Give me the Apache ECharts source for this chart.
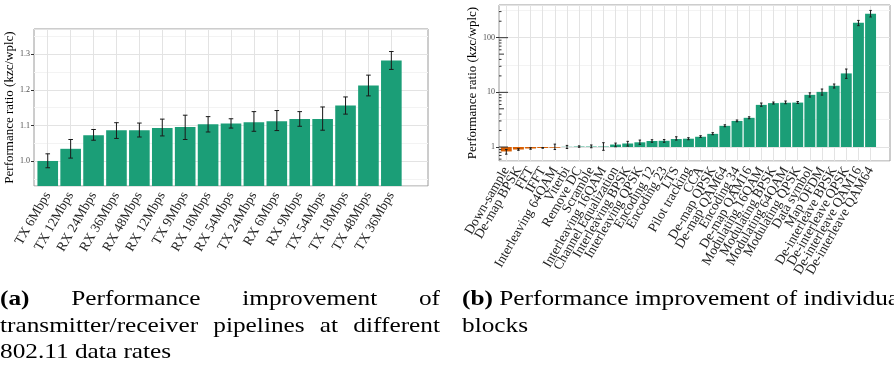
<!DOCTYPE html>
<html>
<head>
<meta charset="utf-8">
<script src="https://cdn.jsdelivr.net/npm/echarts@6/dist/echarts.min.js"></script>
<style>
  html, body { margin: 0; padding: 0; background: #fff; }
  #chart { position: absolute; left: 0; top: 0; width: 894px; height: 370px; }
  .cap { position: absolute; font-family: "Liberation Serif", serif; font-size: 22px;
         line-height: 26.5px; color: #000; white-space: nowrap; transform-origin: 0 0; }
  .cap .j { text-align: justify; text-align-last: justify; }
</style>
</head>
<body>
<div id="chart"></div>
<div class="cap" id="capA" style="left:0; top:285px;">
  <div class="j"><b>(a)</b> Performance improvement of</div>
  <div class="j">transmitter/receiver pipelines at different</div>
  <div>802.11 data rates</div>
</div>
<div class="cap" id="capB" style="left:462px; top:285px;">
  <div><b>(b)</b> Performance improvement of individual</div>
  <div>blocks</div>
</div>
<script>
// (a) pipelines
const leftCats = ["TX 6Mbps", "TX 12Mbps", "RX 24Mbps", "RX 36Mbps", "RX 48Mbps", "RX 12Mbps",
  "TX 9Mbps", "RX 18Mbps", "RX 54Mbps", "TX 24Mbps", "RX 6Mbps", "RX 9Mbps", "TX 54Mbps",
  "TX 18Mbps", "TX 48Mbps", "TX 36Mbps"];
const leftMean = [1.001, 1.035, 1.073, 1.087, 1.087, 1.093, 1.096, 1.104, 1.106, 1.109, 1.112,
  1.118, 1.118, 1.156, 1.212, 1.282];
const leftLow = [0.982, 1.009, 1.059, 1.064, 1.068, 1.071, 1.061, 1.082, 1.093, 1.084, 1.086,
  1.098, 1.087, 1.132, 1.183, 1.257];
const leftHigh = [1.021, 1.061, 1.089, 1.108, 1.107, 1.118, 1.129, 1.125, 1.119, 1.139, 1.142,
  1.139, 1.152, 1.180, 1.241, 1.307];
const leftMinorBreaks = [0.95, 1.05, 1.15, 1.25, 1.35];

// (b) individual blocks
const rightCats = ["Down-sample", "De-map BPSK", "FFT", "IFFT", "Interleaving 64QAM", "Viterbi",
  "Remove DC", "Scramble", "Interleaving 16QAM", "Channel Equalization", "Interleaving BPSK",
  "Interleaving QPSK", "Encoding 12", "Encoding 23", "LTS", "Pilot tracking", "CCA",
  "De-map QPSK", "De-map QAM64", "Encoding 34", "De-map QAM16", "Modulating 16QAM",
  "Modulating BPSK", "Modulating 64QAM", "Modulating QPSK", "Data symbol", "Map OFDM",
  "De-interleave BPSK", "De-interleave QPSK", "De-interleave QAM16", "De-interleave QAM64"];
const rightMean = [0.83, 0.90, 0.94, 0.96, 0.97, 1.01, 1.02, 1.02, 1.02, 1.11, 1.16, 1.22, 1.29,
  1.30, 1.40, 1.42, 1.54, 1.74, 2.44, 3.0, 3.42, 5.9, 6.35, 6.45, 6.5, 9.0, 10.2, 13.2, 22.2,
  188, 274];
const rightLow = [0.74, 0.87, 0.91, 0.95, 0.90, 0.94, 0.99, 0.97, 0.87, 1.01, 1.04, 1.12, 1.22,
  1.22, 1.34, 1.36, 1.50, 1.68, 2.35, 2.9, 3.29, 5.55, 6.11, 6.19, 6.25, 8.2, 8.9, 12.0, 18.0,
  166, 239];
const rightHigh = [0.90, 0.93, 0.97, 0.98, 1.13, 1.07, 1.05, 1.09, 1.20, 1.18, 1.27, 1.34, 1.36,
  1.37, 1.54, 1.48, 1.61, 1.83, 2.55, 3.12, 3.57, 6.38, 6.65, 6.94, 6.8, 9.8, 11.5, 14.2, 26.7,
  207, 315];
const rightMinorBreaks = [3.162, 31.62, 316.2];
const rightLogTicks = [0.6, 0.7, 0.8, 0.9, 1, 2, 3, 4, 5, 6, 7, 8, 9, 10, 20, 30, 40, 50, 60,
  70, 80, 90, 100, 200, 300];

const SERIF = "Liberation Serif";
const GREEN = "#1b9e77";
const ORANGE = "#d95f02";
const GRID_MAJOR = "#e3e3e3";
const GRID_MINOR = "#f3f3f3";

const LEFT = { x: 34, y: 29, w: 394, h: 157 };
const RIGHT = { x: 499, y: 5, w: 391, h: 156 };

function panel(p) {
  return { left: p.x, top: p.y, width: p.w, height: p.h, show: true,
    borderColor: "#9a9a9a", borderWidth: 1, backgroundColor: "#fff" };
}
// ggplot pads a discrete axis by 0.6 of a step on each side
function inner(p, n) {
  const u = p.w / (n + 1.2);
  return { left: p.x + 0.1 * u, top: p.y, width: n * u, height: p.h };
}

function catAxis(idx, cats) {
  return {
    gridIndex: idx, type: "category", data: cats, z: 0,
    axisLine: { show: false },
    axisTick: { alignWithLabel: true, length: 3, lineStyle: { color: "#333" } },
    axisLabel: { interval: 0, rotate: 60, margin: 7, fontFamily: SERIF, fontSize: 13.5, color: "#222" },
    splitLine: { show: false }
  };
}

function hiddenX(idx) {
  return { gridIndex: idx, type: "value", min: 0, max: 1, show: false };
}

const yName = {
  name: "Performance ratio (kzc/wplc)", nameLocation: "middle", nameGap: 17,
  nameTextStyle: { fontFamily: SERIF, fontSize: 13, color: "#000" }
};
const yLabel = { showMinLabel: false, showMaxLabel: false, fontFamily: SERIF, fontSize: 8,
  color: "#4d4d4d", margin: 4 };

function gridLines(xi, yi, data) {
  return {
    type: "line", xAxisIndex: xi, yAxisIndex: yi, data: [], silent: true, z: 1,
    markLine: { silent: true, z: 1, symbol: "none", label: { show: false }, animation: false,
      lineStyle: { color: data.color, type: "solid", width: 1 }, emphasis: { disabled: true },
      data: data.lines }
  };
}

function errorBars(xi, yi, low, high) {
  return {
    type: "custom", xAxisIndex: xi, yAxisIndex: yi, z: 11, silent: true,
    data: low.map((v, i) => [i, v, high[i]]),
    encode: { x: 0, y: [1, 2] },
    renderItem: function (params, api) {
      const a = api.coord([api.value(0), api.value(1)]);
      const b = api.coord([api.value(0), api.value(2)]);
      const half = api.size([1, 1])[0] * 0.1;
      const style = { stroke: "#1a1a1a", lineWidth: 1 };
      return { type: "group", children: [
        { type: "line", shape: { x1: a[0], y1: a[1], x2: b[0], y2: b[1] }, style: style },
        { type: "line", shape: { x1: a[0] - half, y1: a[1], x2: a[0] + half, y2: a[1] }, style: style },
        { type: "line", shape: { x1: b[0] - half, y1: b[1], x2: b[0] + half, y2: b[1] }, style: style }
      ] };
    }
  };
}

const chart = echarts.init(document.getElementById("chart"), null, { renderer: "canvas" });
chart.setOption({
  animation: false,
  grid: [panel(LEFT), inner(LEFT, leftCats.length), panel(RIGHT), inner(RIGHT, rightCats.length)],
  xAxis: [hiddenX(0), catAxis(1, leftCats), hiddenX(2), catAxis(3, rightCats)],
  yAxis: [
    Object.assign({
      gridIndex: 0, type: "value", min: 0.931, max: 1.37, splitNumber: 5, z: 0,
      axisLine: { show: false },
      axisTick: { show: true, length: 3, lineStyle: { color: "#333" } },
      axisLabel: Object.assign({ formatter: v => v.toFixed(1) }, yLabel),
      splitLine: { lineStyle: { color: GRID_MAJOR, width: 1 } }
    }, yName),
    { gridIndex: 1, type: "value", min: 0.931, max: 1.37, show: false },
    Object.assign({
      gridIndex: 2, type: "log", logBase: 10, min: 0.555, max: 396, z: 0,
      axisLine: { show: false },
      axisTick: { show: true, length: 3, lineStyle: { color: "#333" } },
      axisLabel: Object.assign({ formatter: v => String(Math.round(v)) }, yLabel),
      splitLine: { lineStyle: { color: GRID_MAJOR, width: 1 } }
    }, yName),
    { gridIndex: 3, type: "log", logBase: 10, min: 0.555, max: 396, show: false }
  ],
  series: [
    gridLines(0, 0, { color: GRID_MINOR, lines: leftMinorBreaks.map(v => ({ yAxis: v })) }),
    gridLines(1, 1, { color: GRID_MAJOR, lines: leftCats.map(c => ({ xAxis: c })) }),
    {
      type: "bar", xAxisIndex: 1, yAxisIndex: 1, data: leftMean, barWidth: "90%",
      itemStyle: { color: GREEN }, z: 10, silent: true
    },
    errorBars(1, 1, leftLow, leftHigh),

    gridLines(2, 2, { color: GRID_MINOR, lines: rightMinorBreaks.map(v => ({ yAxis: v })) }),
    gridLines(3, 3, { color: GRID_MAJOR, lines: rightCats.map(c => ({ xAxis: c })) }),
    {
      type: "bar", xAxisIndex: 3, yAxisIndex: 3, data: rightMean, barWidth: "90%", z: 10, silent: true,
      itemStyle: { color: p => (p.value < 1 ? ORANGE : GREEN) }
    },
    errorBars(3, 3, rightLow, rightHigh),
    {
      // log ticks along the left edge of panel (b)
      type: "custom", xAxisIndex: 2, yAxisIndex: 2, z: 12, silent: true,
      data: rightLogTicks.map(v => [0, v]),
      encode: { x: 0, y: 1 },
      renderItem: function (params, api) {
        const v = api.value(1);
        const p = api.coord([0, v]);
        const lg = Math.log10(v);
        const frac = Math.abs(lg - Math.round(lg));
        const lead = Math.round(v / Math.pow(10, Math.floor(lg + 1e-9)));
        const len = frac < 1e-6 ? 9 : (lead === 5 ? 5 : 2.5);
        const x0 = params.coordSys.x;
        return { type: "line", shape: { x1: x0, y1: p[1], x2: x0 + len, y2: p[1] },
          style: { stroke: "#333", lineWidth: 1 } };
      }
    }
  ]
});

// stretch caption text so the serif face fills about the same width as the original
const CAP_SCALE = 1.15;
const capA = document.getElementById("capA");
capA.style.width = (440 / CAP_SCALE) + "px";
capA.style.transform = "scaleX(" + CAP_SCALE + ")";
const capB = document.getElementById("capB");
capB.style.transform = "scaleX(" + CAP_SCALE + ")";
</script>
</body>
</html>
